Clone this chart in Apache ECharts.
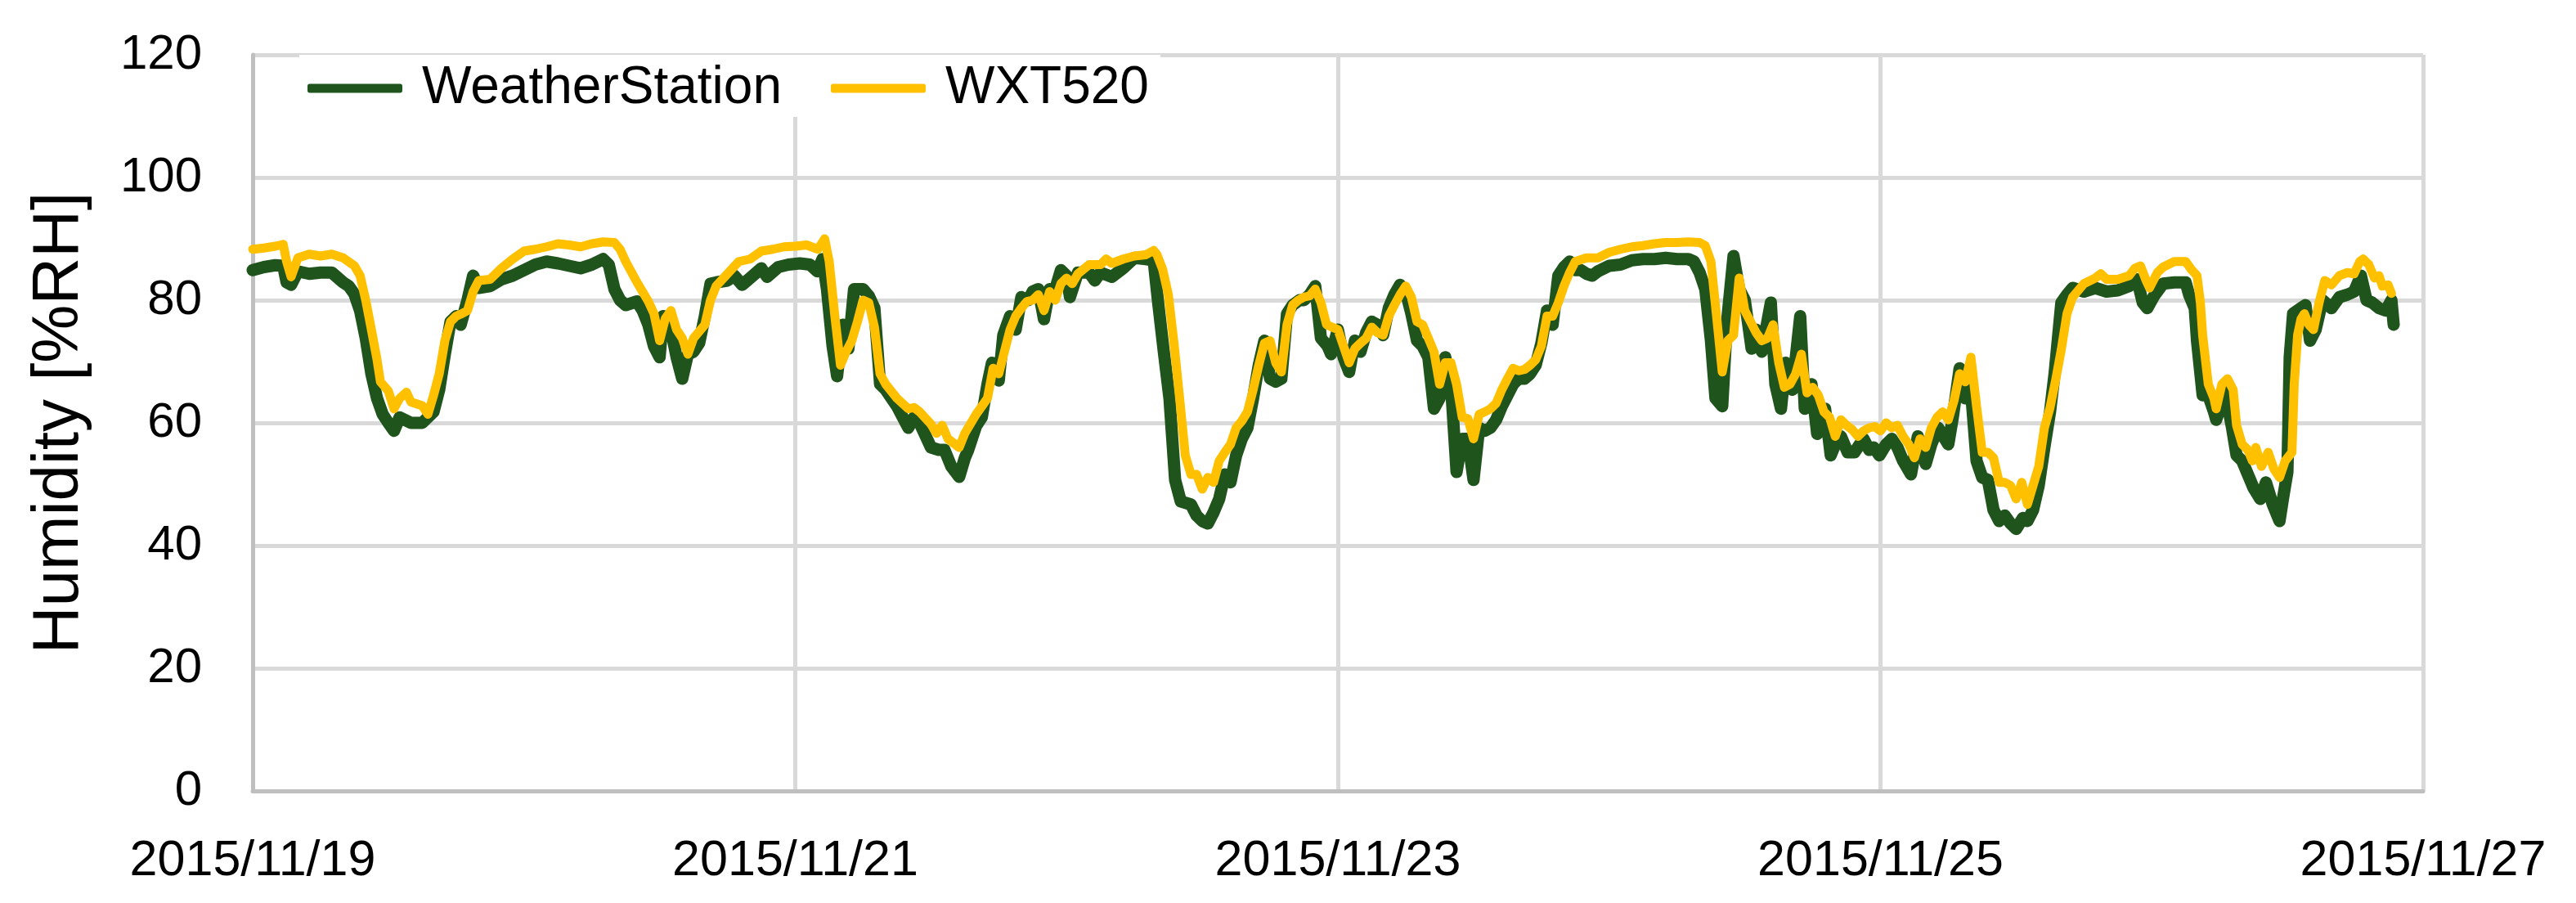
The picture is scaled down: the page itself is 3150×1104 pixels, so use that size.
<!DOCTYPE html>
<html>
<head>
<meta charset="utf-8">
<title>Humidity comparison</title>
<script src="https://cdn.jsdelivr.net/npm/echarts@6/dist/echarts.min.js"></script>
<style>
  html, body { margin: 0; padding: 0; background: #fff; }
  #chartContainer { width: 3150px; height: 1104px; }
</style>
</head>
<body>
<div id="chartContainer"></div>
<script>
// time in hours since 2015/11/19 00:00, humidity in %RH
var seriesNames = ['WeatherStation', 'WXT520'];
var startDay = 19;
var xTicks = [0, 48, 96, 144, 192];

var wsHours = [
  0, 1, 2, 2.7, 3, 3.4, 4, 5, 6, 7, 8, 8.5, 9, 9.5, 10, 10.5, 11, 11.5, 12, 12.5, 13, 14, 15, 16, 16.5, 17, 17.5, 18, 18.4, 19, 19.5, 20, 21, 22, 23, 24, 25, 26, 27, 28, 29, 30, 31, 31.5, 32,
  32.5, 33, 34, 34.5, 35, 35.5, 36, 36.3, 37, 37.5, 38, 38.5, 39, 39.5, 40, 40.5, 41, 42, 42.6, 43.3, 44, 45, 45.5, 46.5, 47.4, 48.4, 49.3, 49.95, 50.4, 50.8, 51.3, 51.7, 52.2, 52.7, 53.2, 54, 54.5, 55, 55.5, 56, 57, 58, 58.5, 59, 60, 60.7, 61.2, 61.8, 62.5, 63, 63.3, 64,
  64.5, 65, 65.4, 66, 66.4, 67, 67.5, 68, 68.6, 69, 69.5, 70, 70.5, 71, 71.5, 72, 72.3, 73, 74, 74.5, 75, 76, 77, 78, 79, 79.7, 80.1, 80.6, 81.1, 81.6, 82.1, 83, 83.5, 84, 84.5, 85, 85.5, 86, 86.5, 87, 87.5, 88, 88.5, 89, 89.5, 90, 90.5, 91, 91.5, 92, 92.6, 93, 93.5, 94, 94.5, 95.1, 95.4, 96,
  96.5, 97, 97.5, 98, 98.5, 99, 99.5, 100, 100.5, 101, 101.5, 102, 102.5, 103, 103.5, 104, 104.5, 105, 105.5, 106, 106.5, 107, 107.5, 108, 108.5, 109, 109.5, 110, 110.5, 111, 111.5, 112, 112.5, 113, 113.5, 114, 114.5, 115, 115.5, 116, 116.5, 117, 117.5, 118, 118.5, 119, 120, 121, 122, 123, 124, 125, 126, 127, 127.5, 128,
  128.5, 129, 129.4, 130, 130.4, 131, 131.5, 132, 132.6, 133, 133.5, 134.3, 134.7, 135.2, 135.6, 136.2, 136.9, 137.3, 137.9, 138.4, 139.1, 139.6, 140, 140.5, 141.1, 141.7, 142.5, 143, 143.4, 143.9, 144.5, 145, 145.5, 146, 146.7, 147.3, 148, 148.5, 149.1, 150, 150.4, 151, 151.5, 152, 152.5, 153, 153.5, 154, 154.5, 155, 155.5, 156, 156.6, 157, 157.5, 158, 158.5, 159, 159.4, 160,
  160.5, 161, 162, 163, 164, 165, 166, 166.7, 167.2, 167.6, 168.2, 169, 170, 171, 171.3, 171.8, 172, 172.5, 173, 173.5, 173.7, 174.5, 175.1, 175.5, 176, 176.5, 177, 177.6, 178.1, 178.7, 179.3, 179.6, 180, 180.2, 180.5, 181.2, 181.6, 182, 182.5, 183.1, 183.9, 184.6, 185.3, 185.9, 186.5, 187, 187.5, 188.1, 188.7, 189.2, 189.4
];
var wsHumidity = [
  84.9, 85.4, 85.7, 85.6, 82.9, 82.5, 84.7, 84.3, 84.5, 84.5, 82.9, 82.3, 81.0, 78.3, 73.8, 68.0, 64.0, 61.4, 60.0, 58.7, 60.9, 60.0, 60.0, 61.8, 65.4, 71.2, 76.5, 77.4, 76.0, 80.0, 84.0, 82.0, 82.3, 83.4, 84.0, 84.9, 85.8, 86.3, 86.0, 85.6, 85.2, 85.8, 86.7, 85.8, 81.8,
  80.0, 79.2, 79.8, 78.3, 76.0, 72.5, 70.7, 77.4, 75.2, 70.7, 67.2, 71.2, 71.6, 73.0, 77.4, 82.7, 82.9, 83.2, 84.0, 82.5, 83.6, 85.2, 83.8, 85.4, 85.8, 86.0, 85.8, 84.7, 86.7, 81.8, 72.5, 67.6, 76.0, 72.1, 81.8, 81.8, 80.7, 78.7, 66.3, 65.4, 62.7, 59.2, 60.9, 60.0, 56.0, 55.6, 55.6, 52.9, 51.2, 54.3, 55.6, 59.5,
  60.9, 66.3, 69.8, 66.9, 74.3, 77.4, 75.2, 80.5, 80.0, 81.4, 81.8, 76.9, 81.8, 81.8, 84.9, 84.0, 80.5, 84.5, 84.5, 83.2, 84.5, 83.8, 85.2, 86.9, 86.7, 86.5, 79.6, 71.6, 64.0, 50.7, 47.2, 46.7, 44.9, 44.0, 43.6, 45.4, 47.6, 51.6, 50.3, 54.7, 57.4, 59.2, 64.0, 69.4, 73.4, 67.2, 66.7, 67.2, 77.8, 79.2, 80.0, 80.0, 80.9, 82.3, 73.8, 72.5, 71.2, 75.2,
  70.7, 68.3, 73.4, 71.6, 74.7, 76.5, 76.0, 74.3, 78.7, 80.9, 82.5, 81.4, 77.8, 73.4, 72.5, 70.7, 62.3, 64.0, 70.7, 66.3, 52.0, 57.4, 57.4, 50.7, 59.2, 58.7, 59.2, 60.5, 62.7, 64.5, 66.3, 67.2, 67.2, 68.0, 69.4, 73.0, 78.3, 76.0, 84.0, 85.4, 86.3, 84.9, 84.9, 84.3, 84.0, 84.7, 85.6, 85.8, 86.5, 86.7, 86.7, 86.9, 86.7, 86.7, 86.3, 84.5,
  81.8, 73.4, 64.0, 62.7, 76.0, 87.2, 81.8, 80.0, 72.1, 75.2, 71.6, 79.6, 66.3, 62.3, 69.8, 65.4, 77.4, 62.3, 66.3, 58.2, 62.3, 54.7, 56.5, 57.8, 55.2, 55.2, 57.4, 55.6, 56.0, 54.7, 56.5, 57.4, 56.0, 53.8, 51.6, 57.8, 53.3, 56.5, 59.2, 56.5, 60.9, 68.9, 64.0, 65.4, 53.8, 51.1, 50.7, 45.8, 44.0, 44.9, 43.6, 42.7, 44.5, 44.0, 45.8, 49.8, 56.0, 61.8, 68.0, 79.6,
  80.9, 82.0, 81.4, 82.0, 81.4, 81.6, 82.3, 83.4, 79.6, 78.7, 80.7, 82.7, 82.9, 82.9, 80.9, 78.7, 73.4, 64.5, 64.5, 61.8, 60.5, 65.0, 59.2, 54.7, 53.8, 51.6, 49.4, 47.6, 50.3, 46.7, 44.0, 47.6, 52.0, 70.7, 77.8, 78.7, 79.2, 73.4, 75.2, 80.0, 78.7, 80.5, 80.9, 81.4, 84.0, 80.0, 79.6, 78.7, 78.3, 80.0, 76.0
];

var wxtHours = [
  0, 1, 2, 2.7, 3, 3.4, 4, 5, 6, 7, 8, 9, 9.5, 10, 10.5, 11, 11.3, 12, 12.5, 13, 13.6, 14, 15, 15.5, 16, 16.5, 17, 17.5, 18, 18.5, 19, 19.5, 20, 21, 22, 23, 24, 25, 26, 27, 28, 29, 30, 31, 32,
  32.5, 33, 34, 35, 35.5, 36, 36.5, 37, 37.5, 38, 38.5, 39, 40, 40.5, 41, 42, 43, 44, 45, 46, 47, 48, 49, 50, 50.6, 51, 51.5, 52, 52.5, 53, 53.5, 54, 54.5, 55, 55.5, 56, 57, 58, 58.5, 59, 60, 60.5, 61, 61.5, 62, 62.5, 63, 64,
  64.5, 65, 65.5, 66, 66.5, 67, 67.5, 68, 68.5, 69, 69.5, 70, 70.5, 71, 71.5, 72, 72.5, 73, 74, 75, 75.5, 76, 77, 78, 79, 79.7, 80, 80.5, 81, 81.5, 82, 82.5, 83, 83.5, 84, 84.5, 85, 85.5, 86, 86.5, 87, 87.5, 88, 88.5, 89, 89.5, 90, 90.5, 91, 91.5, 92, 92.5, 93, 93.5, 94, 94.5, 95, 96,
  96.5, 97, 97.5, 98, 98.5, 99, 99.5, 100, 100.5, 101, 101.5, 102, 102.5, 103, 103.5, 104, 104.5, 105, 105.5, 106, 106.5, 107, 107.5, 108, 108.5, 109, 109.5, 110, 110.5, 111, 111.5, 112, 112.5, 113, 113.5, 114, 114.5, 115, 115.5, 116, 116.5, 117, 118, 119, 120, 121, 122, 123, 124, 125, 126, 127, 128,
  128.5, 129, 129.5, 130, 130.5, 131, 131.5, 132, 132.5, 133, 133.5, 134, 134.5, 135, 135.5, 136, 136.5, 137, 137.5, 138, 138.5, 139, 139.5, 140, 140.5, 141, 141.5, 142, 142.5, 143, 143.5, 144, 144.5, 145, 145.5, 146, 146.5, 147, 147.5, 148, 148.5, 149, 149.5, 150, 150.5, 151, 151.5, 152, 152.5, 153, 153.5, 154, 154.5, 155, 155.5, 156, 156.5, 157, 157.5, 158, 158.5, 159, 159.5, 160,
  160.5, 161, 162, 163, 163.5, 164, 165, 166, 166.5, 167, 167.5, 167.8, 168.5, 169, 170, 171, 171.5, 172, 172.3, 172.5, 173, 173.5, 173.7, 174.2, 174.7, 175.2, 175.5, 176, 176.5, 176.9, 177.2, 177.7, 178.3, 178.8, 179.3, 179.8, 180.4, 180.6, 180.9, 181.2, 181.5, 181.9, 182.3, 182.8, 183.3, 183.9, 184.6, 185.3, 185.9, 186.4, 186.7, 187.2, 187.7, 188.1, 188.4, 188.9, 189.2
];
var wxtHumidity = [
  88.3, 88.5, 88.8, 89.1, 86.3, 83.8, 86.9, 87.5, 87.2, 87.5, 86.9, 85.6, 84.0, 80.0, 75.2, 70.3, 66.7, 65.2, 62.3, 64.0, 65.0, 63.4, 62.8, 61.4, 64.5, 68.0, 73.4, 76.5, 77.4, 77.8, 78.3, 81.4, 83.2, 83.4, 85.2, 86.7, 88.0, 88.3, 88.7, 89.2, 89.0, 88.7, 89.2, 89.5, 89.4,
  88.3, 86.3, 82.9, 79.8, 77.8, 73.4, 77.0, 78.3, 75.2, 73.8, 71.2, 73.8, 76.0, 80.0, 82.3, 84.3, 86.3, 86.7, 88.0, 88.3, 88.7, 88.8, 89.0, 88.3, 90.0, 86.3, 77.4, 69.4, 71.6, 73.4, 76.5, 80.0, 79.6, 75.6, 68.0, 66.3, 64.0, 62.3, 62.5, 61.8, 59.8, 58.3, 59.6, 57.4, 56.7, 56.0, 58.3, 61.4,
  62.7, 64.0, 68.9, 68.0, 71.6, 75.2, 77.4, 78.7, 79.8, 80.0, 80.9, 78.3, 81.4, 80.0, 82.7, 83.6, 82.7, 84.3, 85.8, 85.8, 86.7, 86.0, 86.7, 87.2, 87.4, 88.1, 87.4, 85.0, 80.9, 73.0, 64.0, 54.7, 51.6, 51.6, 49.2, 51.1, 50.3, 53.8, 55.2, 56.5, 59.2, 60.3, 61.8, 65.4, 69.4, 73.0, 73.4, 69.8, 68.3, 76.0, 79.2, 80.0, 80.5, 80.7, 81.8, 79.6, 76.0, 75.2,
  72.5, 69.8, 72.1, 73.0, 73.8, 75.6, 74.7, 74.3, 77.4, 79.2, 80.9, 82.3, 80.5, 76.5, 76.0, 73.8, 71.6, 66.3, 69.8, 69.8, 66.3, 60.9, 60.7, 57.4, 61.4, 61.8, 62.3, 63.2, 65.4, 67.2, 68.9, 68.5, 68.7, 69.4, 70.3, 72.5, 77.4, 77.4, 79.6, 82.3, 84.5, 86.3, 86.9, 86.9, 87.8, 88.3, 88.7, 88.9, 89.2, 89.4, 89.4, 89.5, 89.4,
  88.9, 86.3, 77.4, 68.3, 73.4, 74.3, 83.6, 78.3, 76.5, 74.7, 73.4, 73.8, 76.0, 69.8, 65.8, 66.3, 68.0, 71.2, 64.9, 65.8, 64.5, 61.8, 60.9, 57.8, 60.5, 59.6, 58.9, 57.8, 58.7, 59.2, 59.4, 58.7, 60.0, 59.2, 59.6, 57.8, 56.5, 54.3, 57.4, 56.0, 59.2, 60.9, 61.8, 60.5, 63.6, 68.0, 66.7, 70.7, 62.7, 55.2, 55.2, 54.3, 50.3, 50.3, 49.8, 47.6, 50.3, 46.7, 49.8, 52.9, 59.2, 62.5, 67.0, 72.0,
  77.8, 80.5, 82.7, 83.6, 84.3, 83.4, 83.4, 84.0, 85.2, 85.6, 83.2, 82.0, 84.5, 85.4, 86.3, 86.3, 85.0, 84.0, 79.6, 74.3, 66.3, 64.0, 62.3, 66.3, 67.2, 65.4, 59.6, 56.5, 55.6, 53.8, 56.0, 52.9, 55.2, 52.5, 51.1, 53.8, 55.2, 66.3, 74.3, 76.9, 77.8, 76.0, 75.2, 79.6, 83.2, 82.5, 84.0, 84.5, 84.3, 86.3, 86.7, 85.8, 83.6, 84.0, 82.3, 82.5, 81.1
];

function pairUp(hours, values) {
  var out = [];
  for (var i = 0; i < hours.length; i++) {
    out.push([hours[i], values[i]]);
  }
  return out;
}

var font = "'Liberation Sans', Arial, sans-serif";
var chart = echarts.init(document.getElementById('chartContainer'), null, { renderer: 'canvas' });

var option = {
  animation: false,
  backgroundColor: '#ffffff',
  grid: { left: 309, right: 187, top: 67, bottom: 137 },
  legend: {
    data: seriesNames,
    left: 366,
    top: 67,
    padding: [9, 14, 3, 10],
    backgroundColor: '#ffffff',
    icon: 'roundRect',
    itemWidth: 116,
    itemHeight: 11,
    itemGap: 60,
    textStyle: {
      fontFamily: font,
      fontSize: 64,
      color: '#000000',
      lineHeight: 64,
      padding: [0, 0, 0, 19]
    }
  },
  xAxis: {
    type: 'value',
    min: 0,
    max: 192,
    interval: 48,
    axisLine: { show: true, lineStyle: { color: '#bfbfbf', width: 5 } },
    axisTick: { show: false },
    splitLine: { show: true, lineStyle: { color: '#d9d9d9', width: 5 } },
    axisLabel: {
      margin: 56,
      fontFamily: font,
      fontSize: 61,
      color: '#000000',
      formatter: function (h) {
        return '2015/11/' + (startDay + Math.round(h / 24));
      }
    }
  },
  yAxis: {
    type: 'value',
    min: 0,
    max: 120,
    interval: 20,
    name: 'Humidity [%RH]',
    nameLocation: 'middle',
    nameGap: 196,
    nameTextStyle: { fontFamily: font, fontSize: 80, color: '#000000' },
    axisLine: { show: true, lineStyle: { color: '#bfbfbf', width: 5 } },
    axisTick: { show: false },
    splitLine: { show: true, lineStyle: { color: '#d9d9d9', width: 5 } },
    axisLabel: { margin: 62, fontFamily: font, fontSize: 60, color: '#000000' }
  },
  series: [
    {
      name: seriesNames[0],
      type: 'line',
      showSymbol: false,
      data: pairUp(wsHours, wsHumidity),
      itemStyle: { color: '#1f541c' },
      lineStyle: { color: '#1f541c', width: 15, join: 'round', cap: 'round' },
      z: 2
    },
    {
      name: seriesNames[1],
      type: 'line',
      showSymbol: false,
      data: pairUp(wxtHours, wxtHumidity),
      itemStyle: { color: '#ffc000' },
      lineStyle: { color: '#ffc000', width: 11, join: 'round', cap: 'round' },
      z: 3
    }
  ]
};
chart.setOption(option);
</script>
</body>
</html>
